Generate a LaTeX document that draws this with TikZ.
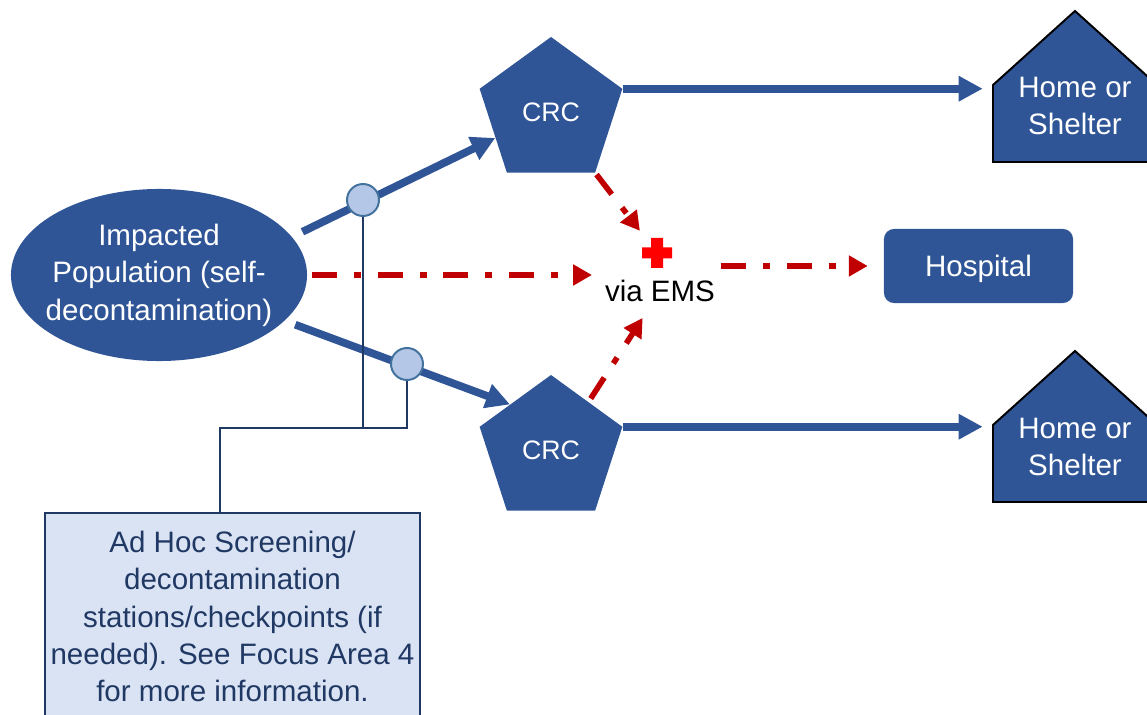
\documentclass[tikz,border=0pt]{standalone}
\usepackage{fontspec}
\setmainfont{Liberation Sans}
\usetikzlibrary{shapes.geometric,arrows.meta}

\definecolor{crcblue}{HTML}{2F5597}
\definecolor{dotblue}{HTML}{B4C7E7}
\definecolor{dotedge}{HTML}{41719C}
\definecolor{navy}{HTML}{203864}
\definecolor{boxfill}{HTML}{DAE3F3}
\definecolor{emsred}{HTML}{C00000}
\definecolor{crossred}{HTML}{FF0000}

\tikzset{
  bluearrow/.style={draw=crcblue,line width=5.5pt,-{Triangle[length=0.6cm,width=0.6cm]}},
  redarrow/.style={draw=emsred,line width=4pt,dash pattern=on 17.7pt off 12pt on 5pt off 12pt,-{Triangle[length=0.47cm,width=0.5cm]}},
  tieline/.style={draw=navy,line width=1.4pt},
  bigtext/.style={font=\fontsize{21}{26.6}\selectfont,align=center},
  crcshape/.style={regular polygon,regular polygon sides=5,minimum size=3.75cm,inner sep=0pt,fill=crcblue,text=white,font=\fontsize{19}{24}\selectfont},
  checkdot/.style={circle,minimum size=0.8cm,inner sep=0pt,fill=dotblue,draw=dotedge,line width=1.4pt},
  house/.style={fill=crcblue,draw=black,line width=1.4pt}
}

\begin{document}
\begin{tikzpicture}[x=0.025cm,y=-0.025cm]
   \useasboundingbox (0,0) rectangle (1147,715);
   \clip (0,0) rectangle (1147,715);

   \node[ellipse,fill=crcblue,text=white,bigtext,minimum width=7.4cm,minimum height=4.3cm,inner sep=0pt,inner xsep=-0.25cm] (pop) at (159,275) {Impacted\\Population (self-\\decontamination)};

   \node[crcshape] (crc1) at (551,112) {CRC};
   \node[crcshape] (crc2) at (551,450) {CRC};

   \fill[house] (993,162) -- (993,85) -- (1075,11) -- (1157,85) -- (1157,162) -- cycle;
   \node[bigtext,text=white,minimum width=4.1cm,inner sep=0pt] (home1) at (1075,106) {Home or\\Shelter};
   \fill[house] (993,502) -- (993,425) -- (1075,351) -- (1157,425) -- (1157,502) -- cycle;
   \node[bigtext,text=white,minimum width=4.1cm,inner sep=0pt] (home2) at (1075,447) {Home or\\Shelter};

   \node[rectangle,rounded corners=0.25cm,fill=crcblue,text=white,bigtext,text depth=0pt,minimum width=4.725cm,minimum height=1.85cm] (hosp) at (978.5,266) {Hospital};

   \coordinate (cross) at (657,253);
   \fill[crossred,shift={(cross)}] (-15,-5.5) rectangle (15,5.5) (-6,-15) rectangle (6,15);
   \node[bigtext,inner sep=0pt] (ems) at (660,291) {via EMS};

   \draw[bluearrow,shorten <=0.29cm] (pop.16) -- (crc1.205);
   \draw[bluearrow,shorten <=0.28cm] (pop.-20) -- (crc2.132);
   \draw[bluearrow,shorten >=0.25cm] (crc1.corner 5) -- (crc1.corner 5 -| home1.west);
   \draw[bluearrow,shorten >=0.25cm] (crc2.corner 5) -- (crc2.corner 5 -| home2.west);

   \draw[redarrow,shorten <=0.12cm,shorten >=1.625cm] (pop.east) -- (pop.east -| cross);
   \draw[redarrow,shorten <=0.05cm,shorten >=0.7cm] (crc1.corner 4) -- (cross);
   \draw[redarrow,shorten <=0.1cm,shorten >=0.8cm] (crc2.52) -- (ems.center);
   \draw[redarrow,shorten <=0.15cm,shorten >=0.4cm] (ems.east |- hosp.west) -- (hosp.west);

   \node[checkdot] (c1) at (363,200) {};
   \node[checkdot] (c2) at (407,364) {};

   \node[rectangle,fill=boxfill,draw=navy,line width=1.4pt,text=navy,bigtext,minimum width=9.375cm,minimum height=5.175cm] (adhoc) at (232.5,616.5) {Ad Hoc Screening/\\decontamination\\stations/checkpoints (if\\needed). See Focus Area 4\\for more information.};

   \coordinate (jn) at (220,428);
   \draw[tieline] (c1.south) -- (c1.south |- jn);
   \draw[tieline] (c2.south) |- (jn) -- (jn |- adhoc.north);
\end{tikzpicture}
\end{document}
